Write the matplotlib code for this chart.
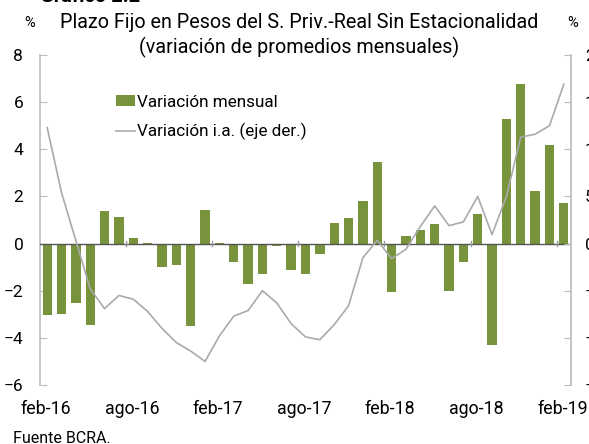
import numpy as np
import matplotlib.pyplot as plt

plt.rcParams['font.family'] = ['Roboto', 'DejaVu Sans']

# monthly variation (left axis, %), feb-16 .. feb-19
var_mensual = [-3.04, -2.97, -2.50, -3.45, 1.40, 1.12, 0.23, 0.02, -0.98, -0.93,
               -3.48, 1.44, 0.03, -0.78, -1.73, -1.30, -0.10, -1.13, -1.30, -0.45,
               0.89, 1.09, 1.80, 3.44, -2.05, 0.33, 0.59, 0.85, -2.01, -0.78,
               1.26, -4.29, 5.30, 6.78, 2.21, 4.19, 1.71]
# year-on-year variation (right axis, %)
var_ia = [12.3, 5.4, 0.3, -4.8, -6.9, -5.5, -5.9, -7.2, -9.0, -10.5,
          -11.4, -12.5, -9.8, -7.7, -7.1, -5.0, -6.3, -8.5, -9.9, -10.2,
          -8.6, -6.6, -1.5, 0.35, -1.6, -0.6, 1.8, 4.0, 1.9, 2.3,
          5.0, 0.95, 5.0, 11.3, 11.6, 12.5, 16.9]
xlabels = ['feb-16', 'ago-16', 'feb-17', 'ago-17', 'feb-18', 'ago-18', 'feb-19']
left_ticks = [8, 6, 4, 2, 0, -2, -4, -6]
right_ticks = [20, 15, 10, 5, 0, -5, -10, -15]

green = '#77933c'
gray_line = '#aaaaaa'
spine_col = '#bbbbbb'

fig = plt.figure(figsize=(5.89, 4.44), dpi=100)
ax = fig.add_axes([40/589, 59/444, 531/589, 330/444])
ax2 = ax.twinx()

x = np.arange(len(var_mensual))
ax.bar(x, var_mensual, width=0.65, color=green, label='Variación mensual', zorder=2)
ax2.plot(x, var_ia, color=gray_line, lw=1.2, label='Variación i.a. (eje der.)')

ax.set_xlim(-0.5, 36.5)
ax.set_ylim(-6, 8)
ax2.set_ylim(-15, 20)
ax.set_yticks(left_ticks)
ax2.set_yticks(right_ticks)

for a in (ax, ax2):
    for s in ('top', 'bottom'):
        a.spines[s].set_visible(False)
ax.spines['right'].set_visible(False)
ax2.spines['left'].set_visible(False)
ax.spines['left'].set_color(spine_col)
ax2.spines['right'].set_color(spine_col)
ax.spines['left'].set_linewidth(1.2)
ax2.spines['right'].set_linewidth(1.2)

ax.tick_params(axis='y', direction='in', length=5, color=spine_col, pad=12,
               labelsize=12.5)
ax2.tick_params(axis='y', direction='in', length=5, color=spine_col, pad=10,
                labelsize=12.5)

# zero line with category ticks
ax.axhline(0, color='#555555', lw=1, zorder=3)
tick_pos = np.arange(-0.5, 37, 6)
ax.set_xticks(tick_pos)
ax.set_xticklabels([])
ax.tick_params(axis='x', length=0)
for t in tick_pos[1:]:
    ax.plot([t, t], [-0.12, 0.12], color='#999999', lw=1, zorder=3)
for i, lab in enumerate(xlabels):
    ax.annotate(lab, xy=(i * 6 - 0.1, 0), xycoords=('data', 'axes fraction'),
                xytext=(0, -17), textcoords='offset points', ha='center', va='center',
                fontsize=12.8, annotation_clip=False)

h1, l1 = ax.get_legend_handles_labels()
h2, l2 = ax2.get_legend_handles_labels()
ax.legend(h1 + h2, l1 + l2, loc='upper left', bbox_to_anchor=(0.13, 0.9),
          frameon=False, fontsize=12.3, handlelength=1.1, handleheight=0.6,
          handletextpad=0.15, labelspacing=0.78, borderaxespad=0)

fig.text(299/589, 1 - 23/444, 'Plazo Fijo en Pesos del S. Priv.-Real Sin Estacionalidad',
         ha='center', va='center', fontsize=14.2)
fig.text(299/589, 1 - 47/444, '(variación de promedios mensuales)',
         ha='center', va='center', fontsize=14.2)
fig.text(30/589, 1 - 23/444, '%', ha='center', va='center', fontsize=10.5)
fig.text(573/589, 1 - 23/444, '%', ha='center', va='center', fontsize=10.5)
fig.text(40/589, 1 + 3/444, 'Gráfico 2.2', ha='left', va='center', fontsize=14.5,
         fontweight='bold')
fig.text(13/589, 1 - 438/444, 'Fuente BCRA.', ha='left', va='center', fontsize=11.5)

fig.savefig('out.png', dpi=100)
